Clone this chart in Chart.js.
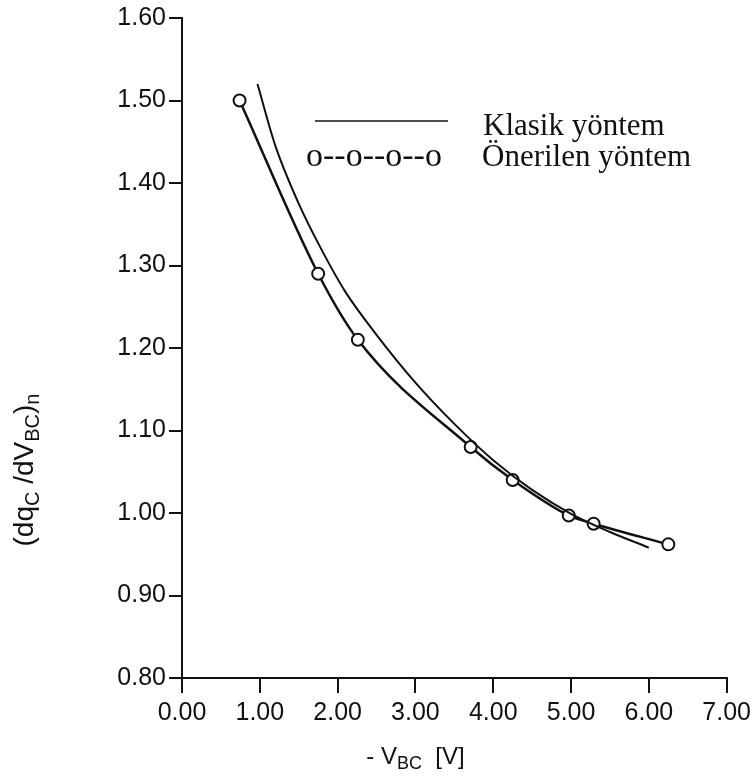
<!DOCTYPE html>
<html>
<head>
<meta charset="utf-8">
<script src="https://cdn.jsdelivr.net/npm/chart.js@4/dist/chart.umd.min.js"></script>
<style>
  body { margin: 0; background: #fff; }
  #wrap { width: 756px; height: 778px; }
</style>
</head>
<body>
<div id="wrap"><canvas id="grafica" width="756" height="778"></canvas></div>
<script>
// Önerilen yöntem (measured points, drawn with circles)
const onerilenX = [0.74, 1.75, 2.26, 3.71, 4.25, 4.97, 5.29, 6.25];
const onerilenY = [1.50, 1.29, 1.21, 1.08, 1.04, 0.997, 0.987, 0.962];

// Klasik yöntem (plain curve)
const klasikX = [0.97, 1.2, 1.5, 1.8, 2.1, 2.5, 3.0, 3.5, 4.0, 4.5, 5.0, 5.5, 6.0];
const klasikY = [1.52, 1.445, 1.375, 1.318, 1.268, 1.216, 1.158, 1.108, 1.064, 1.028, 0.999, 0.977, 0.958];

const xTicks = [0, 1, 2, 3, 4, 5, 6, 7];
const yTicks = [0.8, 0.9, 1.0, 1.1, 1.2, 1.3, 1.4, 1.5, 1.6];

const legendLabels = ['Klasik yöntem', 'Önerilen yöntem'];

const tickFont = { family: "'Liberation Sans Narrow', 'Liberation Sans', sans-serif", size: 25 };
const ink = '#111';

function pts(xs, ys) {
  return xs.map((x, i) => ({ x: x, y: ys[i] }));
}

// draws text made of normal and subscript pieces, centred on (cx, base)
function richText(ctx, parts, cx, base, size, subSize) {
  const fam = "'Liberation Sans', sans-serif";
  let w = 0;
  parts.forEach(p => {
    ctx.font = (p.sub ? subSize : size) + 'px ' + fam;
    p.w = ctx.measureText(p.t).width;
    w += p.w;
  });
  let x = cx - w / 2;
  parts.forEach(p => {
    ctx.font = (p.sub ? subSize : size) + 'px ' + fam;
    ctx.fillText(p.t, x, base + (p.sub ? size * 0.2 : 0));
    x += p.w;
  });
}

const extras = {
  id: 'extras',
  afterDraw(chart) {
    const ctx = chart.ctx;
    const a = chart.chartArea;
    const xs = chart.scales.x;
    ctx.save();
    ctx.fillStyle = ink;
    ctx.textBaseline = 'alphabetic';
    ctx.textAlign = 'left';

    // x title
    richText(ctx, [{ t: '- V' }, { t: 'BC', sub: true }, { t: '  [V]' }],
      xs.getPixelForValue(3.0), a.bottom + 86, 24, 18);

    // y title, rotated
    ctx.save();
    ctx.translate(33, a.top + 452);
    ctx.rotate(-Math.PI / 2);
    richText(ctx, [{ t: '(dq' }, { t: 'C', sub: true }, { t: ' /dV' }, { t: 'BC', sub: true }, { t: ')' }, { t: 'n', sub: true }],
      0, 0, 28, 20);
    ctx.restore();

    // legend
    const lx = a.left + 133;
    ctx.strokeStyle = ink;
    ctx.lineWidth = 1.5;
    ctx.beginPath();
    ctx.moveTo(lx, a.top + 103);
    ctx.lineTo(lx + 133, a.top + 103);
    ctx.stroke();
    ctx.font = "31px 'Liberation Serif', serif";
    ctx.fillText(legendLabels[0], a.left + 301, a.top + 117);
    ctx.fillText(legendLabels[1], a.left + 300, a.top + 148);
    ctx.font = "34px 'Liberation Serif', serif";
    ctx.fillText('o--o--o--o', a.left + 124, a.top + 148);
    ctx.restore();
  }
};

const data = {
  datasets: [
    {
      label: legendLabels[0],
      data: pts(klasikX, klasikY),
      borderColor: ink,
      borderWidth: 2,
      pointRadius: 0,
      cubicInterpolationMode: 'monotone',
      fill: false
    },
    {
      label: legendLabels[1],
      data: pts(onerilenX, onerilenY),
      borderColor: ink,
      borderWidth: 2.5,
      pointRadius: 6,
      pointBorderWidth: 2,
      pointBackgroundColor: '#fff',
      pointBorderColor: ink,
      cubicInterpolationMode: 'monotone',
      fill: false
    }
  ]
};

const config = {
  type: 'line',
  data: data,
  options: {
    responsive: false,
    animation: false,
    layout: { padding: { top: 16, right: 29, left: 0, bottom: 0 } },
    plugins: { legend: { display: false }, tooltip: { enabled: false } },
    scales: {
      x: {
        type: 'linear',
        min: 0, max: 7,
        afterBuildTicks: s => { s.ticks = xTicks.map(v => ({ value: v })); },
        afterFit: s => { s.height = 100; },
        ticks: { color: ink, font: tickFont, padding: 5, maxRotation: 0, callback: v => v.toFixed(2) },
        grid: { drawOnChartArea: false, drawTicks: true, tickLength: 15, color: ink, lineWidth: 2 },
        border: { display: true, color: ink, width: 2 }
      },
      y: {
        min: 0.8, max: 1.6,
        afterBuildTicks: s => { s.ticks = yTicks.map(v => ({ value: v })); },
        afterFit: s => { s.width = 182; },
        ticks: { color: ink, font: tickFont, padding: 3, callback: v => v.toFixed(2) },
        grid: { drawOnChartArea: false, drawTicks: true, tickLength: 13, color: ink, lineWidth: 2 },
        border: { display: true, color: ink, width: 2 }
      }
    }
  },
  plugins: [extras]
};

new Chart(document.querySelector('#grafica'), config);
</script>
</body>
</html>
